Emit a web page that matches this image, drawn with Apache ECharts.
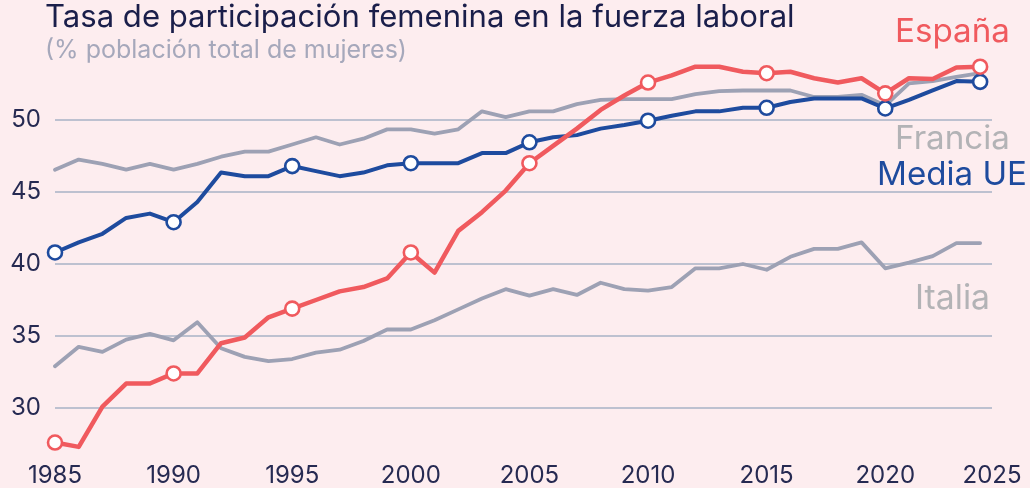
<!DOCTYPE html>
<html><head><meta charset="utf-8">
<script src="https://cdn.jsdelivr.net/npm/echarts@6/dist/echarts.min.js"></script>
<style>html,body{margin:0;padding:0;background:#FDEDEF}#c{width:1030px;height:488px}</style>
</head><body><div id="c"></div>
<script>
const years = [1985,1986,1987,1988,1989,1990,1991,1992,1993,1994,1995,1996,1997,1998,1999,2000,2001,2002,2003,2004,2005,2006,2007,2008,2009,2010,2011,2012,2013,2014,2015,2016,2017,2018,2019,2020,2021,2022,2023,2024];
const espana = [27.6,27.3,30.1,31.7,31.7,32.4,32.4,34.5,34.9,36.3,36.9,37.5,38.1,38.4,39.0,40.8,39.4,42.3,43.6,45.1,47.0,48.2,49.4,50.7,51.7,52.6,53.1,53.7,53.7,53.35,53.25,53.35,52.9,52.6,52.9,51.85,52.9,52.85,53.65,53.7];
const mediaUE = [40.8,41.5,42.1,43.2,43.5,42.9,44.3,46.35,46.1,46.1,46.8,46.45,46.1,46.35,46.85,47.0,47.0,47.0,47.7,47.7,48.45,48.8,48.95,49.4,49.65,49.95,50.3,50.6,50.6,50.85,50.85,51.25,51.5,51.5,51.5,50.8,51.4,52.05,52.7,52.65];
const francia = [46.55,47.25,46.95,46.55,46.95,46.55,46.95,47.45,47.8,47.8,48.3,48.8,48.3,48.7,49.35,49.35,49.05,49.35,50.6,50.2,50.6,50.6,51.1,51.4,51.45,51.45,51.45,51.8,52.0,52.05,52.05,52.05,51.6,51.6,51.75,51.0,52.55,52.7,53.0,53.25];
const italia = [32.9,34.25,33.9,34.75,35.15,34.7,35.95,34.15,33.55,33.25,33.4,33.85,34.05,34.65,35.45,35.45,36.1,36.85,37.6,38.25,37.8,38.25,37.85,38.7,38.25,38.15,38.4,39.7,39.7,40.0,39.6,40.5,41.05,41.05,41.5,39.7,40.1,40.55,41.45,41.45];
const markerYears = [1985,1990,1995,2000,2005,2010,2015,2020,2024];
const xTickLabels = ['1985','1990','1995','2000','2005','2010','2015','2020','2025'];
const seriesNames = ['España','Media UE','Francia','Italia'];
const titleText = 'Tasa de participación femenina en la fuerza laboral';
const subtitleText = '(% población total de mujeres)';

const FONT = 'Inter, "Noto Sans", sans-serif';
const ctx = document.createElement('canvas').getContext('2d');
function fit(text, weight, target) {
  ctx.font = weight + ' 100px ' + FONT;
  return 100 * target / ctx.measureText(text).width;
}
function pairs(vals) { return years.map((y, i) => [y, vals[i]]); }

const RED = '#F05A5E', BLUE = '#1E4B9E', GRAY = '#9DA1B4', LABELGRAY = '#B3B3B6';

function textTitle(text, weight, width, centerY, color, pos) {
  const s = fit(text, weight, width);
  return Object.assign({
    text: text, padding: 0, top: centerY - s / 2,
    textStyle: { fontFamily: FONT, fontSize: s, fontWeight: weight, color: color, lineHeight: s }
  }, pos);
}

const chart = echarts.init(document.getElementById('c'), null, { renderer: 'canvas' });

function lineSeries(name, vals, color, width, withMarkers, z) {
  return {
    name: name, type: 'line', data: pairs(vals), z: z,
    lineStyle: { color: color, width: width, join: 'round', cap: 'round' },
    symbol: 'circle',
    showSymbol: withMarkers,
    symbolSize: (v) => (withMarkers && markerYears.includes(v[0])) ? 14 : 0,
    itemStyle: { color: '#FFFFFF', borderColor: color, borderWidth: 2.6 },
    emphasis: { disabled: true },
    silent: true
  };
}

chart.setOption({
  backgroundColor: '#FDEDEF',
  animation: false,
  title: [
    textTitle(titleText, 400, 750, 17.5, '#1A1E4A', { left: 45 }),
    textTitle(subtitleText, 400, 362, 50.5, '#A6A8BB', { left: 45 }),
    textTitle(seriesNames[0], 400, 115, 32, RED, { right: 20 }),
    textTitle(seriesNames[2], 400, 115, 139.5, LABELGRAY, { right: 20 }),
    textTitle(seriesNames[1], 400, 150, 175.5, BLUE, { right: 3 }),
    textTitle(seriesNames[3], 400, 75, 299, LABELGRAY, { right: 40 })
  ],
  grid: { left: 55, right: 38, top: 48, bottom: 8, containLabel: false },
  xAxis: {
    type: 'value', min: 1985, max: 2024.5, interval: 5,
    axisLine: { show: false }, axisTick: { show: false }, splitLine: { show: false },
    axisLabel: {
      margin: -16, fontFamily: FONT, fontSize: 24, color: '#262A52',
      showMinLabel: true, showMaxLabel: true,
      formatter: (v) => xTickLabels[Math.round((v - 1985) / 5)]
    }
  },
  yAxis: {
    type: 'value', min: 25, max: 55, interval: 5,
    axisLine: { show: false }, axisTick: { show: false },
    splitLine: { show: true, showMinLine: false, showMaxLine: false, lineStyle: { color: '#BDC1D0', width: 2 } },
    axisLabel: { margin: 14, fontFamily: FONT, fontSize: 24, color: '#262A52', showMinLabel: false, showMaxLabel: false }
  },
  series: [
    lineSeries('Italia', italia, GRAY, 3.8, false, 2),
    lineSeries('Francia', francia, GRAY, 3.8, false, 3),
    lineSeries('Media UE', mediaUE, BLUE, 4, true, 4),
    lineSeries('España', espana, RED, 4.5, true, 5)
  ]
});
</script></body></html>
